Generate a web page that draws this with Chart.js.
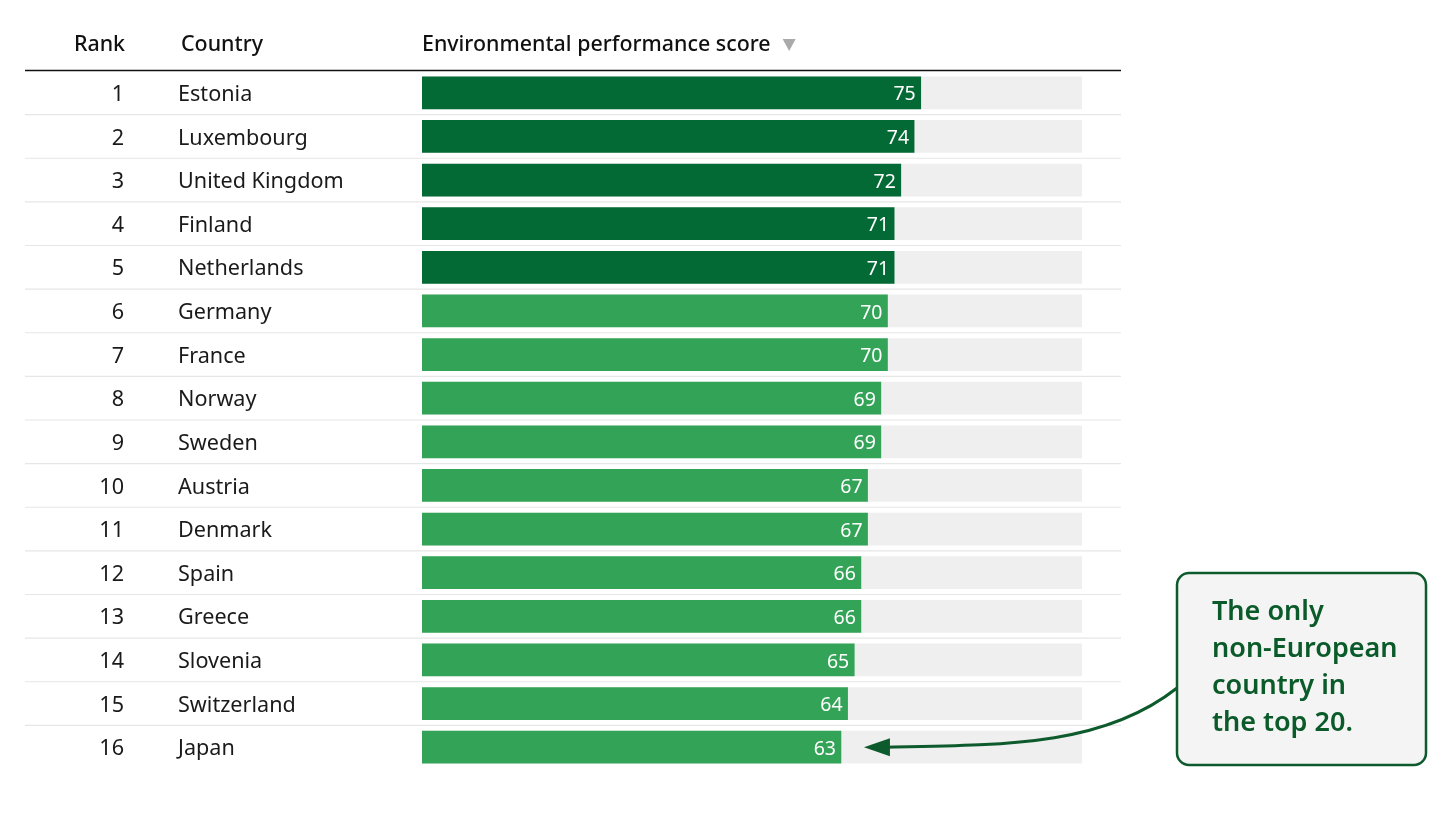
<!DOCTYPE html>
<html>
<head>
<meta charset="utf-8">
<script src="https://cdn.jsdelivr.net/npm/chart.js@4"></script>
<style>
  html, body { margin: 0; padding: 0; background: #ffffff; }
  #wrap { width: 1456px; height: 819px; position: relative; }
</style>
</head>
<body>
<div id="wrap"><canvas id="chart" width="1456" height="819"></canvas></div>
<script>
// Datos de la tabla
const ranks = [1, 2, 3, 4, 5, 6, 7, 8, 9, 10, 11, 12, 13, 14, 15, 16];
const countries = ['Estonia', 'Luxembourg', 'United Kingdom', 'Finland', 'Netherlands', 'Germany', 'France',
  'Norway', 'Sweden', 'Austria', 'Denmark', 'Spain', 'Greece', 'Slovenia', 'Switzerland', 'Japan'];
const scores = [75, 74, 72, 71, 71, 70, 70, 69, 69, 67, 67, 66, 66, 65, 64, 63];
const maxScore = 100;
const trackEnd = 99.2; // donde termina la barra gris de fondo
const topCount = 5; // los primeros en verde oscuro

const darkGreen = '#036935';
const lightGreen = '#33a457';
const trackGray = '#efefef';

// Plugin para dibujar la tabla: cabecera, rangos, países, etiquetas y nota
const tablePlugin = {
  id: 'tablePlugin',
  afterDatasetsDraw(chart) {
    const ctx = chart.ctx;
    const x = chart.scales.x;
    const y = chart.scales.y;
    const font = '"Noto Sans", "Open Sans", sans-serif';

    ctx.save();
    // Cabecera
    ctx.fillStyle = '#111';
    ctx.font = '500 21.4px ' + font;
    ctx.textBaseline = 'middle';
    ctx.textAlign = 'right';
    ctx.fillText('Rank', 125, 45);
    ctx.textAlign = 'left';
    ctx.fillText('Country', 181, 45);
    ctx.fillText('Environmental performance score', x.getPixelForValue(0), 45);
    const hw = ctx.measureText('Environmental performance score').width;
    const tx = x.getPixelForValue(0) + hw + 12;
    ctx.fillStyle = '#aaaaaa';
    ctx.beginPath();
    ctx.moveTo(tx, 39);
    ctx.lineTo(tx + 13, 39);
    ctx.lineTo(tx + 6.5, 51);
    ctx.closePath();
    ctx.fill();

    // Línea de cabecera
    ctx.strokeStyle = '#111';
    ctx.lineWidth = 1.5;
    ctx.beginPath();
    ctx.moveTo(25, 70.5);
    ctx.lineTo(1121, 70.5);
    ctx.stroke();

    // Separadores de filas
    ctx.strokeStyle = '#e6e6e6';
    ctx.lineWidth = 1.2;
    for (let i = 0; i < countries.length - 1; i++) {
      const ym = (y.getPixelForValue(i) + y.getPixelForValue(i + 1)) / 2;
      ctx.beginPath();
      ctx.moveTo(25, ym);
      ctx.lineTo(1121, ym);
      ctx.stroke();
    }

    // Rangos y países
    ctx.font = '21.6px ' + font;
    ctx.fillStyle = '#1a1a1a';
    countries.forEach((c, i) => {
      const yy = y.getPixelForValue(i);
      ctx.textAlign = 'right';
      ctx.fillText(String(ranks[i]), 124, yy + 2);
      ctx.textAlign = 'left';
      ctx.fillText(c, 178, yy + 2);
    });

    // Valores dentro de las barras
    ctx.font = '19.5px ' + font;
    ctx.fillStyle = '#ffffff';
    ctx.textAlign = 'right';
    scores.forEach((s, i) => {
      ctx.fillText(String(s), x.getPixelForValue(s) - 5, y.getPixelForValue(i) + 2);
    });

    // Nota
    const bx = 1177, by = 573, bw = 249, bh = 192;
    ctx.fillStyle = '#f3f4f3';
    ctx.strokeStyle = '#0d5a2c';
    ctx.lineWidth = 2.5;
    ctx.beginPath();
    ctx.roundRect(bx, by, bw, bh, 12);
    ctx.fill();
    ctx.stroke();
    ctx.fillStyle = '#0b5a2a';
    ctx.font = '600 27px ' + font;
    ctx.textAlign = 'left';
    ['The only', 'non-European', 'country in', 'the top 20.'].forEach((t, k) => {
      ctx.fillText(t, 1212, 612 + k * 37);
    });

    // Flecha curva hacia Japón
    const last = countries.length - 1;
    const ay = y.getPixelForValue(last);
    const tipX = x.getPixelForValue(scores[last]) + 23;
    ctx.strokeStyle = '#0d5a2c';
    ctx.lineWidth = 3;
    ctx.beginPath();
    ctx.moveTo(bx, 688);
    ctx.bezierCurveTo(1105, 745, 1010, ay - 2, tipX + 22, ay);
    ctx.stroke();
    ctx.fillStyle = '#0d5a2c';
    ctx.beginPath();
    ctx.moveTo(tipX, ay);
    ctx.lineTo(tipX + 26, ay - 9);
    ctx.lineTo(tipX + 26, ay + 9);
    ctx.closePath();
    ctx.fill();
    ctx.restore();
  }
};

new Chart(document.getElementById('chart'), {
  type: 'bar',
  data: {
    labels: countries,
    datasets: [
      {
        label: 'Score',
        data: scores,
        backgroundColor: scores.map((s, i) => i < topCount ? darkGreen : lightGreen),
        barThickness: 32,
        order: 1
      },
      {
        label: 'Track',
        data: countries.map(() => trackEnd),
        backgroundColor: trackGray,
        barThickness: 32,
        order: 2
      }
    ]
  },
  options: {
    indexAxis: 'y',
    responsive: false,
    animation: false,
    grouped: false,
    layout: { padding: { left: 422, right: 369, top: 71, bottom: 50 } },
    scales: {
      x: { display: false, min: 0, max: maxScore },
      y: { display: false }
    },
    plugins: {
      legend: { display: false },
      tooltip: { enabled: false }
    }
  },
  plugins: [tablePlugin]
});
</script>
</body>
</html>
